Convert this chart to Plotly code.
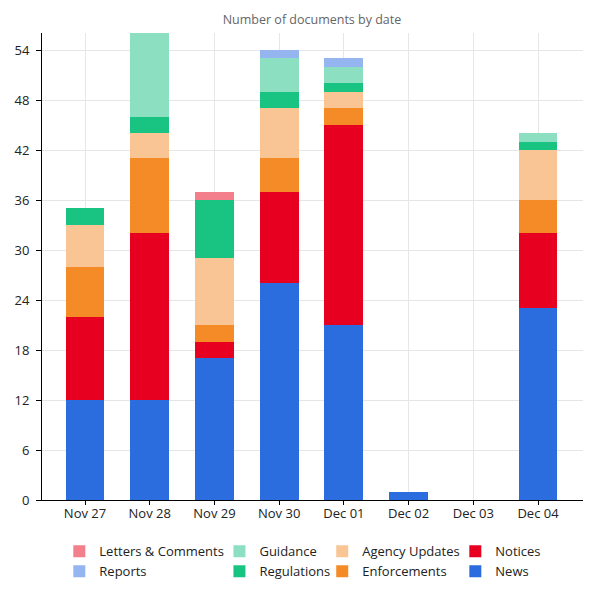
import plotly.graph_objects as go

dates = ["Nov 27", "Nov 28", "Nov 29", "Nov 30", "Dec 01", "Dec 02", "Dec 03", "Dec 04"]
news = [12, 12, 17, 26, 21, 1, 0, 23]
notices = [10, 20, 2, 11, 24, 0, 0, 9]
enforcements = [6, 9, 2, 4, 2, 0, 0, 4]
agency_updates = [5, 3, 8, 6, 2, 0, 0, 6]
regulations = [2, 2, 7, 2, 1, 0, 0, 1]
guidance = [0, 10, 0, 4, 2, 0, 0, 1]
reports = [0, 0, 0, 1, 1, 0, 0, 0]
letters = [0, 0, 1, 0, 0, 0, 0, 0]

series = [
    ("News", news, "#2b6cdf", "legend4"),
    ("Notices", notices, "#e80021", "legend4"),
    ("Enforcements", enforcements, "#f58b27", "legend3"),
    ("Agency Updates", agency_updates, "#f9c594", "legend3"),
    ("Regulations", regulations, "#19c482", "legend2"),
    ("Guidance", guidance, "#8ce0c1", "legend2"),
    ("Reports", reports, "#94b5ef", "legend"),
    ("Letters & Comments", letters, "#f47f8c", "legend"),
]

FONT = "Open Sans"
fig = go.Figure()
for name, vals, color, lg in series:
    fig.add_trace(go.Bar(x=dates, y=vals, name=name, marker=dict(color=color, line=dict(width=0)),
                         legend=lg))

leg_common = dict(orientation="v", traceorder="reversed", yref="container", yanchor="top", y=0.106,
                  xanchor="left", font=dict(family=FONT, size=13, color="#222"),
                  itemwidth=30, tracegroupgap=0, bgcolor="rgba(0,0,0,0)")
fig.update_layout(
    barmode="stack",
    bargap=0.4,
    width=600, height=600,
    margin=dict(l=42, r=17, t=33, b=100),
    paper_bgcolor="white", plot_bgcolor="white",
    font=dict(family=FONT, size=13, color="#222"),
    title=dict(text="Number of documents by date", x=0.52, xanchor="center", y=0.967, yanchor="middle",
               font=dict(family=FONT, size=12.5, color="#666")),
    legend=dict(x=0.032, **leg_common),
    legend2=dict(x=0.328, **leg_common),
    legend3=dict(x=0.518, **leg_common),
    legend4=dict(x=0.764, **leg_common),
    xaxis=dict(range=[-0.665, 7.695], showline=True, linecolor="#000", linewidth=1,
               ticks="outside", ticklen=4, tickcolor="#000", showgrid=True, gridcolor="#e6e6e6",
               ticklabelstandoff=-3,
               tickfont=dict(family=FONT, size=13, color="#222")),
    yaxis=dict(range=[0, 56.04], tickvals=[0, 6, 12, 18, 24, 30, 36, 42, 48, 54],
               showline=True, linecolor="#000", linewidth=1, ticks="outside", ticklen=5,
               tickcolor="#000", showgrid=True, gridcolor="#e6e6e6", zeroline=False,
               ticklabelstandoff=4,
               tickfont=dict(family=FONT, size=13, color="#222")),
)
fig.write_html("out.html", config={"displayModeBar": False},
               post_script="document.body.style.margin='0';")
